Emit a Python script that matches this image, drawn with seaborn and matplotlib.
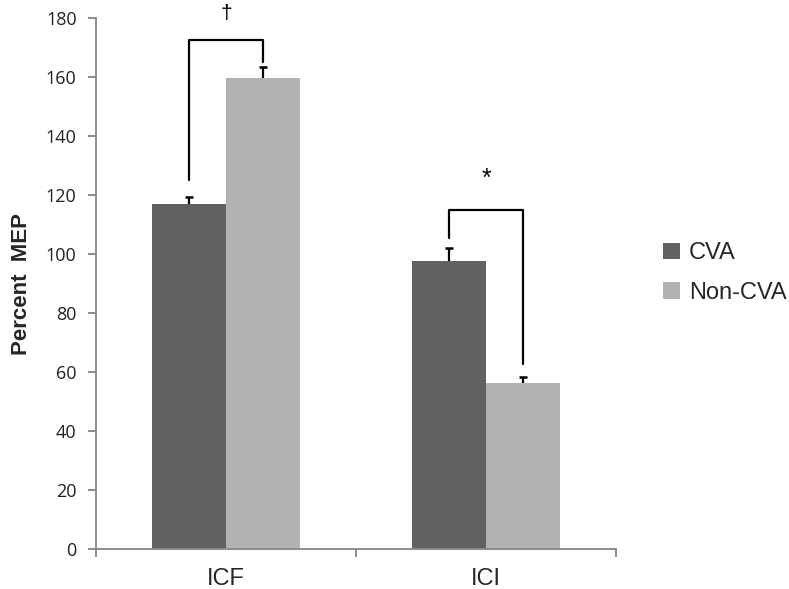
import matplotlib
matplotlib.use("Agg")
import matplotlib.pyplot as plt
import numpy as np
import pandas as pd
import seaborn as sns

# data
measures = ["ICF", "ICF", "ICI", "ICI"]
groups = ["CVA", "Non-CVA", "CVA", "Non-CVA"]
percent_mep = [116.8, 159.8, 97.6, 56.4]
sem_upper = [2.4, 3.6, 4.4, 1.8]

# significance brackets: (measure index, top of left leg, top of right leg, bracket top, mark, mark y)
brackets = [
    (0, 125.0, 165.0, 172.4, "\u2020", 181.5),
    (1, 105.4, 62.6, 115.0, "*", 125.5),
]

sns.set_style("white")
plt.rcParams["font.family"] = ["Liberation Sans", "DejaVu Sans"]

df = pd.DataFrame({"measure": measures, "group": groups, "value": percent_mep})
palette = {"CVA": "#616161", "Non-CVA": "#b2b2b2"}

fig = plt.figure(figsize=(7.89, 5.89), dpi=100)
ax = fig.add_axes([0.1217, 0.0679, 0.659, 0.9015])

sns.barplot(data=df, x="measure", y="value", hue="group", palette=palette,
            width=0.57, errorbar=None, saturation=1, ax=ax, linewidth=0)

# bar centres, containers come per hue level
cva, non = ax.containers[0], ax.containers[1]
xs = []
for a, b in zip(cva, non):
    xs += [a.get_x() + a.get_width() / 2, b.get_x() + b.get_width() / 2]

# upper-only error bars (T shape)
_, caps, _ = ax.errorbar(xs, percent_mep, yerr=[np.zeros(4), sem_upper], fmt="none",
                         ecolor="black", elinewidth=1.6, capsize=3.2, capthick=1.8,
                         zorder=3)
caps[0].remove()

# brackets
for idx, yl, yr, ytop, mark, ymark in brackets:
    xl, xr = xs[2 * idx], xs[2 * idx + 1]
    ax.plot([xl, xl, xr, xr], [yl, ytop, ytop, yr], color="black", lw=1.6,
            clip_on=False, zorder=4)
    ax.text((xl + xr) / 2, ymark, mark, ha="center", va="center",
            fontsize=15 if mark != "*" else 18, color="black", clip_on=False)

ax.set_ylim(0, 180)
ax.set_yticks(np.arange(0, 181, 20))
ax.set_xlim(-0.5, 1.5)
ax.set_xlabel("")
ax.set_ylabel("Percent  MEP", fontsize=16, fontweight="bold", labelpad=10)

for s in ["top", "right"]:
    ax.spines[s].set_visible(False)
for s in ["left", "bottom"]:
    ax.spines[s].set_color("#8c8c8c")
    ax.spines[s].set_linewidth(1.4)

ax.tick_params(axis="y", direction="out", length=6, width=1.4, color="#8c8c8c",
               labelsize=13, pad=8, left=True)
for lab in ax.get_yticklabels():
    lab.set_family(["Open Sans", "DejaVu Sans"])
    lab.set_color("#222222")
ax.tick_params(axis="x", which="major", length=0, labelsize=17, pad=14)
ax.set_xticks([-0.5, 0.5, 1.5], minor=True)
ax.tick_params(axis="x", which="minor", direction="out", length=6, width=1.4,
               color="#8c8c8c", bottom=True)

ax.legend(loc="center left", bbox_to_anchor=(1.05, 0.52), frameon=False,
          fontsize=17, handlelength=0.7, handleheight=0.7,
          handletextpad=0.4, labelspacing=0.75)

fig.savefig("out.png", dpi=100)
